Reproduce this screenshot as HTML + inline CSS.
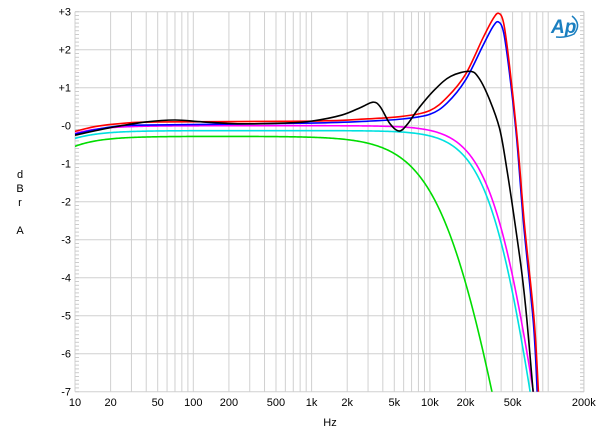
<!DOCTYPE html>
<html><head><meta charset="utf-8"><style>
body{margin:0;background:#fff;width:600px;height:435px;overflow:hidden}
svg{display:block}
text{font-family:"Liberation Sans",sans-serif;font-size:11px;fill:#000}
</style></head><body>
<svg id="s" width="600" height="435" xmlns="http://www.w3.org/2000/svg"></svg>
<script>
const L=75,R=584,T=11.7,B=391.7,PD=118.3,DB=38;
const X=f=>L+Math.log10(f/10)*PD, Y=d=>T+(3-d)*DB;
let h='';
for(let dec=10;dec<=100000;dec*=10)for(let m=1;m<10;m++){const f=dec*m;if(f>200000)break;const x=X(f);h+=`<line x1="${x}" y1="${T}" x2="${x}" y2="${B}" stroke="#d0d0d0" stroke-width="1"/>`;}
h+=`<line x1="${R}" y1="${T}" x2="${R}" y2="${B}" stroke="#d0d0d0"/>`;
for(let d=3;d>=-7;d--){const y=Y(d);h+=`<line x1="${L}" y1="${y}" x2="${R}" y2="${y}" stroke="#d0d0d0"/>`;
h+=`<text x="${L-4}" y="${y+4}" text-anchor="end">${d>0?'+'+d:(d==0?'-0':d)}</text>`;}
for(let i=0;i<=100;i++){const y=T+i*DB/10;h+=`<line x1="${L}" y1="${y}" x2="${L+4}" y2="${y}" stroke="#ccc"/><line x1="${R-4}" y1="${y}" x2="${R}" y2="${y}" stroke="#ccc"/>`;}
const xl=[[10,'10'],[20,'20'],[50,'50'],[100,'100'],[200,'200'],[500,'500'],[1000,'1k'],[2000,'2k'],[5000,'5k'],[10000,'10k'],[20000,'20k'],[50000,'50k'],[200000,'200k']];
for(const [f,t] of xl)h+=`<text x="${X(f)}" y="406" text-anchor="middle">${t}</text>`;
h+=`<text x="330" y="426" text-anchor="middle">Hz</text>`;
h+=`<text x="20" y="178" text-anchor="middle">d</text><text x="20" y="192" text-anchor="middle">B</text><text x="20" y="206" text-anchor="middle">r</text><text x="20" y="234" text-anchor="middle">A</text>`;
h+=`<text x="551" y="33" style="font-size:19px;font-style:italic;font-weight:bold;fill:#1a7fc0">Ap</text><path d="M572 16 Q582 24 574 34 Q566 38 556 37" fill="none" stroke="#1a7fc0" stroke-width="1.5"/>`;
function path(pts,col){
 const P=pts.map(p=>[X(p[0]),Y(p[1])]);
 let d=`M${P[0][0]},${P[0][1]}`;
 for(let i=0;i<P.length-1;i++){const p0=P[i-1]||P[i],p1=P[i],p2=P[i+1],p3=P[i+2]||p2;
  const c1=[p1[0]+(p2[0]-p0[0])/6,p1[1]+(p2[1]-p0[1])/6],c2=[p2[0]-(p3[0]-p1[0])/6,p2[1]-(p3[1]-p1[1])/6];
  d+=` C${c1[0]},${c1[1]} ${c2[0]},${c2[1]} ${p2[0]},${p2[1]}`;}
 return `<path d="${d}" fill="none" stroke="${col}" stroke-width="1.6"/>`;}
function ana(off,fl,fc,n2,col){
 let d='';for(let i=0;i<=400;i++){const f=10*Math.pow(10,i*4.301/400);
  const v=off-10*Math.log10(1+Math.pow(fl/f,2))-10*Math.log10(1+Math.pow(f/fc,n2));
  d+=(i?' L':'M')+X(f).toFixed(2)+','+Y(v).toFixed(2);if(v<-7.5)break;}
 return `<path d="${d}" fill="none" stroke="${col}" stroke-width="1.6"/>`;}
let c='';
c+=ana(-0.28,2.5,16500,1.85,'#00dd00');
c+=ana(-0.13,2.2,40500,2.45,'#00e0e0');
c+=ana(0,2.2,42500,2.45,'#ff00ff');
c+=path([[10,-0.22],[15,-0.1],[25,0],[50,0.02],[1000,0.07],[3000,0.12],[6000,0.18],[10000,0.3],[14000,0.6],[20000,1.2],[28000,2.1],[34000,2.6],[38000,2.73],[42000,2.45],[47000,1.4],[54000,-0.3],[62000,-2.6],[75000,-5.2],[81000,-7.1]],'#0000ff');
c+=path([[10,-0.15],[15,-0.02],[25,0.06],[50,0.1],[1000,0.12],[3000,0.18],[6000,0.25],[10000,0.4],[14000,0.75],[20000,1.35],[28000,2.3],[34000,2.8],[38000,2.96],[42000,2.7],[47000,1.6],[55000,-0.4],[63000,-2.6],[76000,-5.1],[83000,-7.1]],'#ff0000');
c+=path([[10,-0.25],[20,-0.05],[40,0.1],[70,0.15],[120,0.1],[250,0.05],[600,0.07],[1000,0.12],[1800,0.28],[2600,0.48],[3300,0.62],[3800,0.5],[4600,0.05],[5500,-0.14],[6500,0.05],[8000,0.45],[11000,0.95],[15000,1.3],[21800,1.43],[26000,1.25],[32000,0.68],[39000,-0.1],[45000,-1.2],[52000,-2.5],[60000,-3.9],[66000,-5.1],[75000,-7.1]],'#000000');
h+=`<defs><clipPath id="cp"><rect x="${L}" y="0" width="${R-L}" height="${B}"/></clipPath></defs><g clip-path="url(#cp)">${c}</g>`;
document.getElementById('s').innerHTML=h;
</script>
</body></html>
